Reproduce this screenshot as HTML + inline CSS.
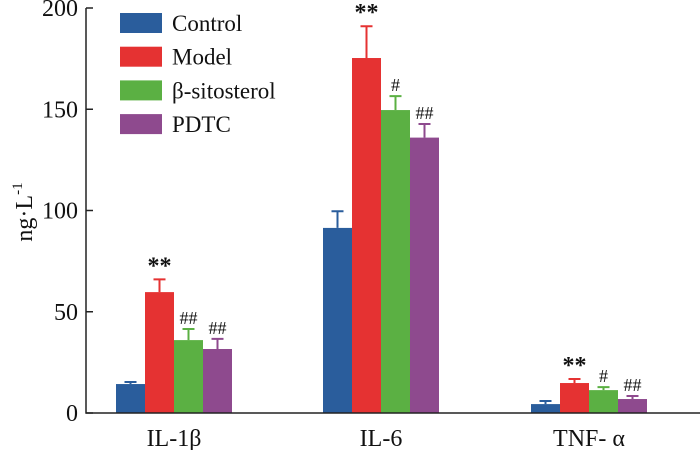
<!DOCTYPE html>
<html><head><meta charset="utf-8"><style>
body{margin:0;background:#fff}
svg{display:block;font-family:"Liberation Serif",serif}
</style></head><body>
<svg id="chart" width="700" height="450" viewBox="0 0 700 450"></svg>
<script>
const categories=["IL-1β","IL-6","TNF- α"];
const seriesNames=["Control","Model","β-sitosterol","PDTC"];
const controlVals=[14.3,91.4,4.4];
const modelVals=[59.7,175.3,14.8];
const sitoVals=[36,149.6,11.3];
const pdtcVals=[31.6,136,6.9];
const controlErr=[1,8.2,1.5];
const modelErr=[6.3,15.7,2];
const sitoErr=[5.5,6.9,1.5];
const pdtcErr=[5,6.7,1.5];
const modelMarks=["**","**","**"];
const sitoMarks=["##","#","#"];
const pdtcMarks=["##","##","##"];
const yTicks=[0,50,100,150,200];
const colors=["#2a5d9c","#e53232","#5bb043","#8e4a8e"];
const NS="http://www.w3.org/2000/svg";
const svg=document.getElementById('chart');
const x0=86,y0=413,yScale=405/200;
const Y=v=>y0-v*yScale;
const groupStart=[116,323,531],barW=29;
const X=(g,s)=>groupStart[g]+s*barW;
function mk(t,a){const e=document.createElementNS(NS,t);for(const k in a)e.setAttribute(k,a[k]);svg.appendChild(e);return e;}
const vals=[controlVals,modelVals,sitoVals,pdtcVals];
const errs=[controlErr,modelErr,sitoErr,pdtcErr];
const marks=[null,modelMarks,sitoMarks,pdtcMarks];
vals.forEach((arr,s)=>arr.forEach((v,g)=>{
  const x=X(g,s);
  const r=mk('rect',{x:x,y:Y(v),width:barW,height:v*yScale,fill:colors[s]});
  
  
  const cx=x+barW/2,top=Y(v+errs[s][g]);
  const e=mk('path',{d:`M${cx} ${Y(v)}V${top}M${cx-6} ${top}H${cx+6}`,stroke:colors[s],'stroke-width':2,fill:'none'});
  
  
  if(marks[s]){
    const t=mk('text',{x:cx,y:top-(s==1?6:5),'text-anchor':'middle','font-size':s==1?24:18,'font-weight':s==1?'bold':'normal',fill:'#111'});
    t.textContent=marks[s][g];
    
    
  }
}));
const ax=mk('path',{d:`M${x0} 8V${y0}H700`,stroke:'#222','stroke-width':1.5,fill:'none'});


yTicks.forEach(v=>{
  const tk=mk('path',{d:`M${x0} ${Y(v)}H${x0+7}`,stroke:'#222','stroke-width':1.5});
  
  
  const t=mk('text',{x:78,y:Y(v)+8,'text-anchor':'end','font-size':24,fill:'#111'});
  t.textContent=v;
  
  
});
categories.forEach((c,g)=>{
  const t=mk('text',{x:groupStart[g]+2*barW,y:446,'text-anchor':'middle','font-size':24,fill:'#111'});
  t.textContent=c;
  
  
});
const yl=mk('text',{transform:'translate(32,212) rotate(-90)','text-anchor':'middle','font-size':24,fill:'#111'});
yl.innerHTML='ng·L<tspan dy="-10" font-size="15">-1</tspan>';


seriesNames.forEach((n,s)=>{
  const yy=13+s*33.7;
  const r=mk('rect',{x:120,y:yy,width:42,height:20,fill:colors[s]});
  
  
  const t=mk('text',{x:172,y:yy+18,'font-size':23,fill:'#111'});
  t.textContent=n;
  
  
});
</script>
</body></html>
